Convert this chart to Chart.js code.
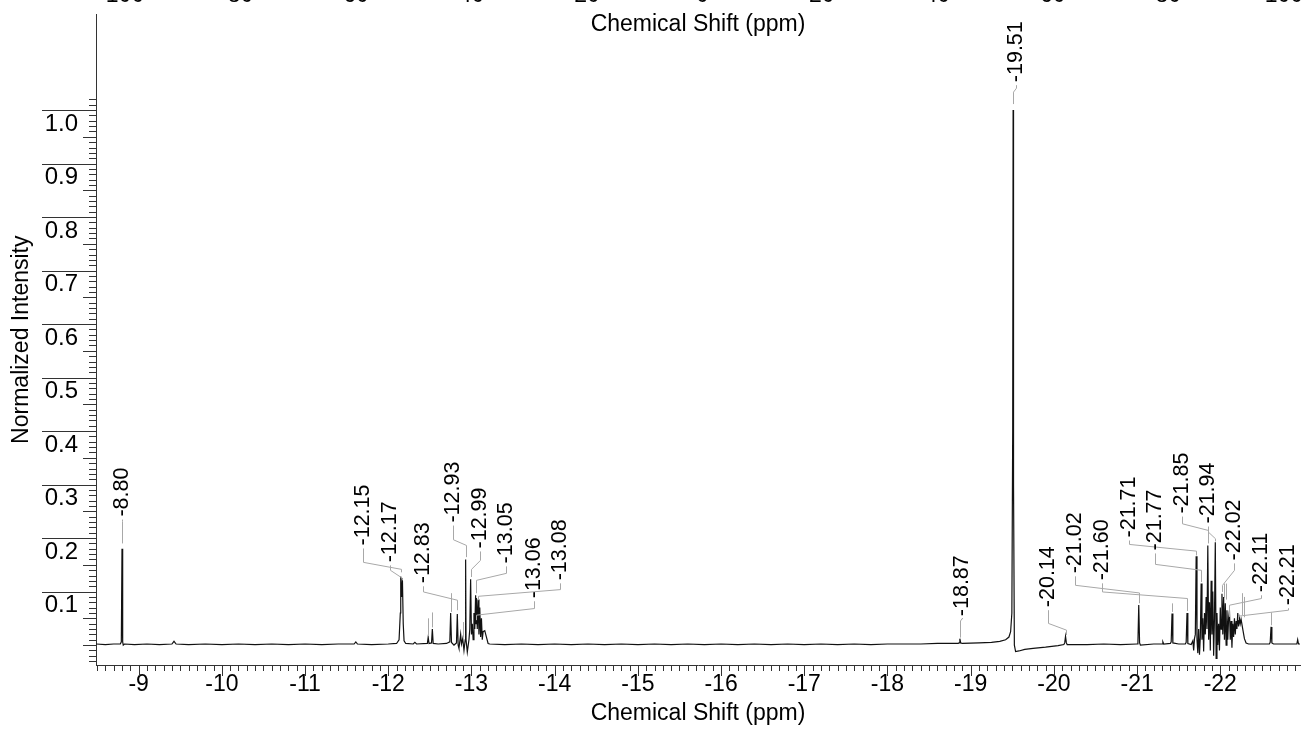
<!DOCTYPE html>
<html>
<head>
<meta charset="utf-8">
<title>Chemical Shift Spectrum</title>
<script src="https://cdn.jsdelivr.net/npm/chart.js@4.4.1/dist/chart.umd.min.js"></script>
<style>
  html, body { margin: 0; padding: 0; background: #fff; overflow: hidden; width: 1302px; height: 735px; }
  /* canvas starts above the page so the top scale labels are only partly shown */
  #wrap { position: absolute; left: 0; top: -18px; width: 1302px; height: 753px; }
</style>
</head>
<body>
<div id="wrap"><canvas id="spectrum"></canvas></div>
<script>
// Spectrum trace: [chemical shift (ppm), normalized intensity]
const spectrum = [
  [-8.49, 0.002], [-8.60, 0.001], [-8.70, 0.002], [-8.78, 0.002], [-8.792, 0.006],
  [-8.80, 0.18], [-8.808, 0.006], [-8.815, 0.0], [-8.83, 0.002], [-8.95, 0.001],
  [-9.10, 0.002], [-9.25, 0.001], [-9.40, 0.002], [-9.425, 0.007], [-9.45, 0.002],
  [-9.60, 0.001], [-9.80, 0.002], [-10.00, 0.001], [-10.20, 0.002], [-10.40, 0.001],
  [-10.60, 0.002], [-10.80, 0.001], [-11.00, 0.002], [-11.20, 0.001], [-11.40, 0.002],
  [-11.59, 0.002], [-11.61, 0.006], [-11.63, 0.002], [-11.80, 0.001], [-12.00, 0.002],
  [-12.10, 0.003], [-12.13, 0.01], [-12.145, 0.06], [-12.15, 0.128], [-12.16, 0.09],
  [-12.17, 0.125], [-12.18, 0.04], [-12.19, 0.008], [-12.21, 0.003], [-12.30, 0.002],
  [-12.32, 0.005], [-12.34, 0.002], [-12.47, 0.003], [-12.48, 0.015], [-12.49, 0.003],
  [-12.52, 0.004], [-12.53, 0.03], [-12.54, 0.003], [-12.60, 0.002], [-12.70, 0.003],
  [-12.74, 0.006], [-12.75, 0.06], [-12.76, 0.005], [-12.79, 0.0], [-12.82, 0.004],
  [-12.83, 0.058], [-12.84, 0.0], [-12.85, -0.006], [-12.87, 0.02], [-12.88, 0.002],
  [-12.895, 0.012], [-12.91, -0.01], [-12.925, 0.01], [-12.93, 0.16], [-12.935, 0.01],
  [-12.95, -0.013], [-12.97, 0.01], [-12.98, 0.03], [-12.99, 0.123], [-13.00, 0.02],
  [-13.01, 0.04], [-13.02, 0.01], [-13.03, 0.06], [-13.04, 0.03], [-13.05, 0.093],
  [-13.055, 0.04], [-13.06, 0.088], [-13.07, 0.03], [-13.08, 0.085], [-13.09, 0.02],
  [-13.10, 0.07], [-13.11, 0.015], [-13.12, 0.05], [-13.13, 0.01], [-13.14, 0.025],
  [-13.16, 0.027], [-13.18, 0.015], [-13.20, 0.003], [-13.22, 0.002], [-13.40, 0.001],
  [-13.60, 0.002], [-13.80, 0.001], [-14.00, 0.002], [-14.20, 0.001], [-14.40, 0.002],
  [-14.60, 0.001], [-14.80, 0.002], [-15.00, 0.001], [-15.20, 0.002], [-15.40, 0.001],
  [-15.60, 0.002], [-15.80, 0.001], [-16.00, 0.002], [-16.20, 0.001], [-16.40, 0.002],
  [-16.60, 0.001], [-16.80, 0.002], [-17.00, 0.001], [-17.20, 0.002], [-17.40, 0.001],
  [-17.60, 0.002], [-17.80, 0.001], [-18.00, 0.002], [-18.20, 0.002], [-18.40, 0.002],
  [-18.60, 0.003], [-18.85, 0.003], [-18.86, 0.004], [-18.87, 0.012], [-18.88, 0.004],
  [-18.90, 0.003], [-19.10, 0.004], [-19.25, 0.005], [-19.35, 0.007], [-19.42, 0.01],
  [-19.46, 0.015], [-19.48, 0.025], [-19.495, 0.06], [-19.505, 0.4], [-19.51, 1.0],
  [-19.515, 0.3], [-19.525, 0.0], [-19.54, -0.012], [-19.58, -0.011], [-19.65, -0.008],
  [-19.75, -0.006], [-19.90, -0.004], [-20.05, -0.001], [-20.12, 0.001], [-20.13, 0.004],
  [-20.14, 0.016], [-20.15, 0.004], [-20.16, 0.001], [-20.40, 0.001], [-20.60, 0.002],
  [-20.80, 0.001], [-21.00, 0.002], [-21.01, 0.004], [-21.02, 0.075], [-21.03, 0.004],
  [-21.04, 0.0], [-21.20, 0.002], [-21.30, 0.002], [-21.31, 0.006], [-21.32, 0.002],
  [-21.40, 0.003], [-21.41, 0.006], [-21.42, 0.059], [-21.43, 0.004], [-21.50, 0.002],
  [-21.58, 0.002], [-21.59, 0.005], [-21.60, 0.06], [-21.61, 0.003], [-21.65, 0.001],
  [-21.67, 0.008], [-21.68, -0.01], [-21.69, 0.012], [-21.70, 0.02], [-21.71, 0.166],
  [-21.72, 0.01], [-21.73, -0.015], [-21.74, 0.03], [-21.75, -0.018], [-21.76, 0.015],
  [-21.77, 0.115], [-21.78, 0.01], [-21.79, 0.05], [-21.80, -0.012], [-21.81, 0.06],
  [-21.82, 0.02], [-21.83, 0.09], [-21.84, 0.03], [-21.85, 0.186], [-21.86, 0.01],
  [-21.87, 0.08], [-21.88, -0.01], [-21.89, 0.12], [-21.90, 0.02], [-21.91, 0.1],
  [-21.92, -0.02], [-21.93, 0.05], [-21.94, 0.192], [-21.95, -0.025], [-21.96, 0.06],
  [-21.97, 0.0], [-21.98, 0.04], [-21.99, -0.01], [-22.00, 0.07], [-22.01, 0.03],
  [-22.02, 0.096], [-22.03, 0.02], [-22.04, 0.09], [-22.05, 0.01], [-22.06, 0.078],
  [-22.07, 0.0], [-22.08, 0.065], [-22.09, 0.01], [-22.10, 0.05], [-22.11, 0.065],
  [-22.12, 0.01], [-22.13, 0.045], [-22.14, -0.005], [-22.15, 0.04], [-22.16, 0.015],
  [-22.17, 0.05], [-22.18, 0.02], [-22.19, 0.045], [-22.20, 0.03], [-22.21, 0.06],
  [-22.22, 0.035], [-22.23, 0.05], [-22.24, 0.04], [-22.25, 0.048], [-22.27, 0.03],
  [-22.29, 0.012], [-22.31, 0.004], [-22.34, 0.002], [-22.45, 0.002], [-22.59, 0.002],
  [-22.60, 0.005], [-22.61, 0.034], [-22.62, 0.004], [-22.64, 0.002], [-22.80, 0.002],
  [-22.92, 0.002], [-22.93, 0.01], [-22.94, 0.002], [-22.96, 0.002]
];

// Picked peaks that carry a shift label
const peakShifts = [
  -8.80, -12.15, -12.17, -12.83, -12.93, -12.99, -13.05, -13.06, -13.08,
  -18.87, -19.51, -20.14, -21.02, -21.60, -21.71, -21.77, -21.85, -21.94,
  -22.02, -22.11, -22.21
];

// Tick values / labels
const xTickValues = [-9, -10, -11, -12, -13, -14, -15, -16, -17, -18, -19, -20, -21, -22];
const yTickValues = [0.1, 0.2, 0.3, 0.4, 0.5, 0.6, 0.7, 0.8, 0.9, 1.0];
const yTickLabels = ['0.1', '0.2', '0.3', '0.4', '0.5', '0.6', '0.7', '0.8', '0.9', '1.0'];
const topTickValues = [100, 80, 60, 40, 20, 0, -20, -40, -60, -80, -100];

// Label placement, in axis units, one row per peakShifts entry:
// [text column ppm, text start intensity, upper knee, lower knee, leader end]
const peakLabelLayout = [
  [-8.80, 0.2402, 0.2309, 0.2309, 0.190],
  [-11.70, 0.1862, 0.1546, 0.1415, 0.136],
  [-12.02, 0.1546, 0.1397, 0.1248, 0.121],
  [-12.42, 0.1155, 0.0993, 0.0838, 0.0652],
  [-12.78, 0.2290, 0.1968, 0.1862, 0.1644],
  [-13.10, 0.1806, 0.1583, 0.1415, 0.1272],
  [-13.42, 0.1527, 0.1341, 0.1210, 0.0968],
  [-13.75, 0.0875, 0.0683, 0.0559, 0.0466],
  [-14.06, 0.1210, 0.1037, 0.0912, 0.0838],
  [-18.90, 0.0540, 0.0503, 0.0450, 0.0140],
  [-19.54, 1.0521, 1.0410, 1.0335, 1.0112],
  [-19.93, 0.0708, 0.0404, 0.0279, 0.0186],
  [-20.25, 0.1341, 0.1117, 0.0974, 0.0782],
  [-20.58, 0.1210, 0.0993, 0.0870, 0.0639],
  [-20.90, 0.2011, 0.1881, 0.1756, 0.1676],
  [-21.22, 0.1769, 0.1508, 0.1397, 0.1179],
  [-21.54, 0.2458, 0.2266, 0.2142, 0.1900],
  [-21.85, 0.2272, 0.2110, 0.1987, 0.1937],
  [-22.17, 0.1583, 0.1397, 0.1117, 0.0993],
  [-22.49, 0.0987, 0.0870, 0.0745, 0.0527],
  [-22.81, 0.0745, 0.0652, 0.0540, 0.0466]
];

// Unlabelled picks: short marker above the peak [ppm, from, to]
const peakMarkers = [
  [-12.48, 0.050, 0.017], [-12.53, 0.061, 0.033], [-12.75, 0.097, 0.062],
  [-12.895, 0.043, 0.014], [-21.42, 0.078, 0.062], [-22.61, 0.061, 0.037],
  [-22.05, 0.115, 0.088], [-22.065, 0.115, 0.085], [-22.26, 0.097, 0.056],
  [-22.28, 0.090, 0.052]
];

const FONT = "'Liberation Sans', Arial, Helvetica, sans-serif";

// Minor / major tick marks on both main axes
const axisTicks = {
  id: 'axisTicks',
  afterDraw(chart) {
    const { ctx, chartArea, scales: { x, y } } = chart;
    ctx.save();
    ctx.strokeStyle = '#333';
    ctx.lineWidth = 1;
    ctx.beginPath();
    for (let i = -3; i <= 102; i++) {
      const py = Math.round(y.getPixelForValue(i / 100)) + 0.5;
      const len = (i > 0 && i % 10 === 0) ? 54 : (i % 5 === 0 ? 13 : 7);
      ctx.moveTo(chartArea.left - len, py);
      ctx.lineTo(chartArea.left, py);
    }
    const first = Math.ceil(x.min * 10), last = Math.floor(x.max * 10);
    for (let j = first; j <= last; j++) {
      const px = Math.round(x.getPixelForValue(j / 10)) + 0.5;
      const len = (j % 10 === 0) ? 11 : 6;
      ctx.moveTo(px, chartArea.bottom);
      ctx.lineTo(px, chartArea.bottom + len);
    }
    ctx.stroke();
    ctx.restore();
  }
};

// Rotated shift labels with their leader lines
const peakLabels = {
  id: 'peakLabels',
  afterDatasetsDraw(chart) {
    const { ctx, scales: { x, y } } = chart;
    ctx.save();
    ctx.strokeStyle = '#a8a8a8';
    ctx.lineWidth = 1;
    peakMarkers.forEach(([p, v0, v1]) => {
      const px = Math.round(x.getPixelForValue(p)) + 0.5;
      ctx.beginPath();
      ctx.moveTo(px, y.getPixelForValue(v0));
      ctx.lineTo(px, y.getPixelForValue(v1));
      ctx.stroke();
    });
    ctx.font = `21.5px ${FONT}`;
    ctx.fillStyle = '#000';
    ctx.textAlign = 'left';
    ctx.textBaseline = 'middle';
    peakShifts.forEach((p, i) => {
      const [lp, tv, k1, k2, ev] = peakLabelLayout[i];
      const lx = Math.round(x.getPixelForValue(lp)) + 0.5;
      const px = Math.round(x.getPixelForValue(p)) + 0.5;
      const ty = y.getPixelForValue(tv);
      ctx.beginPath();
      ctx.moveTo(lx, ty + 3);
      ctx.lineTo(lx, y.getPixelForValue(k1));
      ctx.lineTo(px, y.getPixelForValue(k2));
      ctx.lineTo(px, y.getPixelForValue(ev));
      ctx.stroke();
      ctx.save();
      ctx.translate(lx, ty);
      ctx.rotate(-Math.PI / 2);
      ctx.fillText(p.toFixed(2), 0, 0);
      ctx.restore();
    });
    ctx.restore();
  }
};

// Title of the upper shift scale, set just under its labels
const topTitle = {
  id: 'topTitle',
  afterDraw(chart) {
    const { ctx, chartArea } = chart;
    ctx.save();
    ctx.font = `23px ${FONT}`;
    ctx.fillStyle = '#000';
    ctx.textAlign = 'center';
    ctx.textBaseline = 'alphabetic';
    ctx.fillText('Chemical Shift (ppm)', (chartArea.left + chartArea.right) / 2, chartArea.top + 17);
    ctx.restore();
  }
};

new Chart(document.getElementById('spectrum'), {
  type: 'line',
  data: {
    datasets: [{
      data: spectrum.map(([x, y]) => ({ x, y })),
      borderColor: '#111',
      borderWidth: 1.2,
      pointRadius: 0,
      tension: 0,
      fill: false,
      xAxisID: 'x',
      yAxisID: 'y'
    }]
  },
  options: {
    responsive: true,
    maintainAspectRatio: false,
    animation: false,
    devicePixelRatio: 1,
    events: [],
    layout: { padding: { left: 4, right: 2, top: 0, bottom: 0 } },
    plugins: { legend: { display: false }, tooltip: { enabled: false }, title: { display: false } },
    scales: {
      x: {
        type: 'linear',
        position: 'bottom',
        reverse: true,
        min: -22.958,
        max: -8.4875,
        afterBuildTicks: s => { s.ticks = xTickValues.map(value => ({ value })); },
        ticks: { padding: 6, autoSkip: false, maxRotation: 0, color: '#000', font: { family: FONT, size: 23 }, callback: v => String(v) },
        grid: { display: false, drawTicks: false },
        border: { display: true, color: '#333', width: 1 },
        title: { display: true, text: 'Chemical Shift (ppm)', color: '#000', font: { family: FONT, size: 23 }, padding: { top: 0, bottom: 8 } },
        afterFit: s => { s.height = 70; s.paddingLeft = 0; s.paddingRight = 0; }
      },
      x2: {
        type: 'linear',
        position: 'top',
        reverse: true,
        min: -103.46,
        max: 105.02,
        afterBuildTicks: s => { s.ticks = topTickValues.map(value => ({ value })); },
        ticks: { padding: 5, autoSkip: false, maxRotation: 0, color: '#000', font: { family: FONT, size: 23 } },
        grid: { display: false, drawTicks: false },
        border: { display: false },
        afterFit: s => { s.height = 30; s.paddingLeft = 0; s.paddingRight = 0; }
      },
      y: {
        type: 'linear',
        position: 'left',
        min: -0.03724,
        max: 1.1788,
        afterBuildTicks: s => { s.ticks = yTickValues.map(value => ({ value })); },
        ticks: { padding: 18, labelOffset: 14, color: '#000', font: { family: FONT, size: 24 }, callback: (v, i) => yTickLabels[i] },
        grid: { display: false, drawTicks: false },
        border: { display: true, color: '#333', width: 1 },
        title: { display: true, text: 'Normalized Intensity', color: '#000', font: { family: FONT, size: 23 }, padding: { top: 4.2, bottom: 0 } },
        afterFit: s => { s.width = 92; }
      }
    }
  },
  plugins: [axisTicks, peakLabels, topTitle]
});
</script>
</body>
</html>
